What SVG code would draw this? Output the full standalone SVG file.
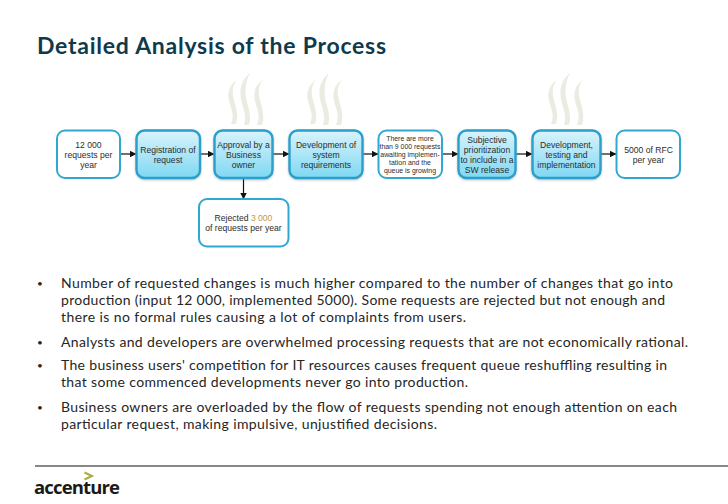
<svg xmlns="http://www.w3.org/2000/svg" width="728" height="504" viewBox="0 0 728 504">
<style>
.plain{fill:#fff;stroke:#2fa9d3;stroke-width:2}
.blue{fill:url(#bg);stroke:#2a9fcb;stroke-width:2.4;filter:url(#sh)}
.t{font-family:"Liberation Sans",Arial,sans-serif;font-size:8.600px;fill:#2c2c2c;text-anchor:middle}
.s{font-size:6.900px}
.b{font-family:Lato,"Open Sans",sans-serif;font-size:14px;fill:#262626}
.d{font-size:10px}
.c{stroke:#111;stroke-width:1.2;fill:none;marker-end:url(#ar)}
.st{fill:#ebebe1}
</style>
<defs>
<linearGradient id="bg" x1="0" y1="0" x2="0" y2="1"><stop offset="0" stop-color="#d9f3fb"/><stop offset="1" stop-color="#7fd8f3"/></linearGradient>
<filter id="sh" x="-10%" y="-10%" width="120%" height="125%"><feDropShadow dx="0" dy="1" stdDeviation="1" flood-color="#666" flood-opacity="0.4"/></filter>
<marker id="ar" viewBox="0 0 8 8" refX="7.5" refY="4" markerWidth="6.5" markerHeight="6.5" markerUnits="userSpaceOnUse" orient="auto"><path d="M0 0L8 4L0 8Z" fill="#111"/></marker>
<g id="steam">
<path class="st" d="M10 7C3 11 0 19 2 28C4 36 8 42 4 51L9 51C12 43 9 35 7 27C5 20 5 12 10 7Z"/>
<path class="st" d="M23 0C15 6 12 16 14 26C16 36 20 42 17 52L22 52C25 42 21 35 19 25C18 16 19 7 23 0Z"/>
<path class="st" d="M36 7C29 11 26 19 28 28C30 36 34 42 30 52L35 52C38 43 35 35 33 27C31 20 31 12 36 7Z"/>
</g>
</defs>
<rect width="728" height="504" fill="#fff"/>
<text id="title" x="37" y="53.500" textLength="349" lengthAdjust="spacing" style="font-family:Lato,'Open Sans',sans-serif;font-size:23px;font-weight:700;fill:#0f3a4c">Detailed Analysis of the Process</text>
<use href="#steam" x="227" y="73"/>
<use href="#steam" x="306" y="73"/>
<use href="#steam" x="547" y="73"/>
<g id="connectors">
<path class="c" d="M120 154H136"/>
<path class="c" d="M200 154H214"/>
<path class="c" d="M273 154H289"/>
<path class="c" d="M363 154H378"/>
<path class="c" d="M442 154H458"/>
<path class="c" d="M516 154H532"/>
<path class="c" d="M601 154H616"/>
<path class="c" d="M243.500 178V199"/>
</g>
<g id="n1"><rect class="plain" x="57" y="130.500" width="63" height="47.500" rx="8"/><text class="t" x="88.500" y="148">12 000</text><text class="t" x="88.500" y="158">requests per</text><text class="t" x="88.500" y="168">year</text></g>
<g id="n2"><rect class="blue" x="136.500" y="130.500" width="63.500" height="47.500" rx="8"/><text class="t" x="168" y="153">Registration of</text><text class="t" x="168" y="163">request</text></g>
<g id="n3"><rect class="blue" x="214.500" y="130.500" width="58" height="47.500" rx="8"/><text class="t" x="243.500" y="148">Approval by a</text><text class="t" x="243.500" y="158">Business</text><text class="t" x="243.500" y="168">owner</text></g>
<g id="n4"><rect class="blue" x="289.500" y="130.500" width="73" height="47.500" rx="8"/><text class="t" x="326" y="148">Development of</text><text class="t" x="326" y="158">system</text><text class="t" x="326" y="168">requirements</text></g>
<g id="n5"><rect class="plain" x="378.500" y="130.500" width="63.500" height="47.500" rx="8"/><text class="t s" x="410" y="141">There are more</text><text class="t s" x="410" y="149">than 9 000 requests</text><text class="t s" x="410" y="157">awaiting implemen-</text><text class="t s" x="410" y="165">tation and the</text><text class="t s" x="410" y="173">queue is growing</text></g>
<g id="n6"><rect class="blue" x="458.500" y="130.500" width="57" height="47.500" rx="8"/><text class="t" x="487" y="143">Subjective</text><text class="t" x="487" y="153">prioritization</text><text class="t" x="487" y="163">to include in a</text><text class="t" x="487" y="173">SW release</text></g>
<g id="n7"><rect class="blue" x="532.500" y="130.500" width="68" height="47.500" rx="8"/><text class="t" x="566.500" y="148">Development,</text><text class="t" x="566.500" y="158">testing and</text><text class="t" x="566.500" y="168">implementation</text></g>
<g id="n8"><rect class="plain" x="616.500" y="130.500" width="63.500" height="47.500" rx="8"/><text class="t" x="648.500" y="153">5000 of RFC</text><text class="t" x="648.500" y="163">per year</text></g>
<g id="n9"><rect class="plain" x="199" y="199" width="89.500" height="47.500" rx="8"/><text class="t" x="243.500" y="221">Rejected <tspan fill="#c8963e">3 000</tspan></text><text class="t" x="243.500" y="231">of requests per year</text></g>
<g id="bullets">
<text class="b d" x="37" y="287">•</text>
<text class="b" x="61" y="288" textLength="612">Number of requested changes is much higher compared to the number of changes that go into</text>
<text class="b" x="61" y="305" textLength="604">production (input 12 000, implemented 5000). Some requests are rejected but not enough and</text>
<text class="b" x="61" y="322" textLength="405">there is no formal rules causing a lot of complaints from users.</text>
<text class="b d" x="37" y="346">•</text>
<text class="b" x="61" y="347" textLength="627">Analysts and developers are overwhelmed processing requests that are not economically rational.</text>
<text class="b d" x="37" y="369">•</text>
<text class="b" x="61" y="370" textLength="606">The business users' competition for IT resources causes frequent queue reshuffling resulting in</text>
<text class="b" x="61" y="387" textLength="407">that some commenced developments never go into production.</text>
<text class="b d" x="37" y="411">•</text>
<text class="b" x="61" y="412" textLength="616">Business owners are overloaded by the flow of requests spending not enough attention on each</text>
<text class="b" x="61" y="429" textLength="376">particular request, making impulsive, unjustified decisions.</text>
</g>
<path d="M35 466H728" stroke="#111" stroke-width="1.200"/>
<g id="logo">
<path d="M84.500 472.500L92 476L84.500 479.500" fill="none" stroke="#a8ad3c" stroke-width="2"/>
<text x="34" y="494" textLength="86" style="font-family:'Open Sans','Noto Sans',sans-serif;font-size:18.500px;font-weight:700;fill:#1a1a1a">accenture</text>
</g>
</svg>
